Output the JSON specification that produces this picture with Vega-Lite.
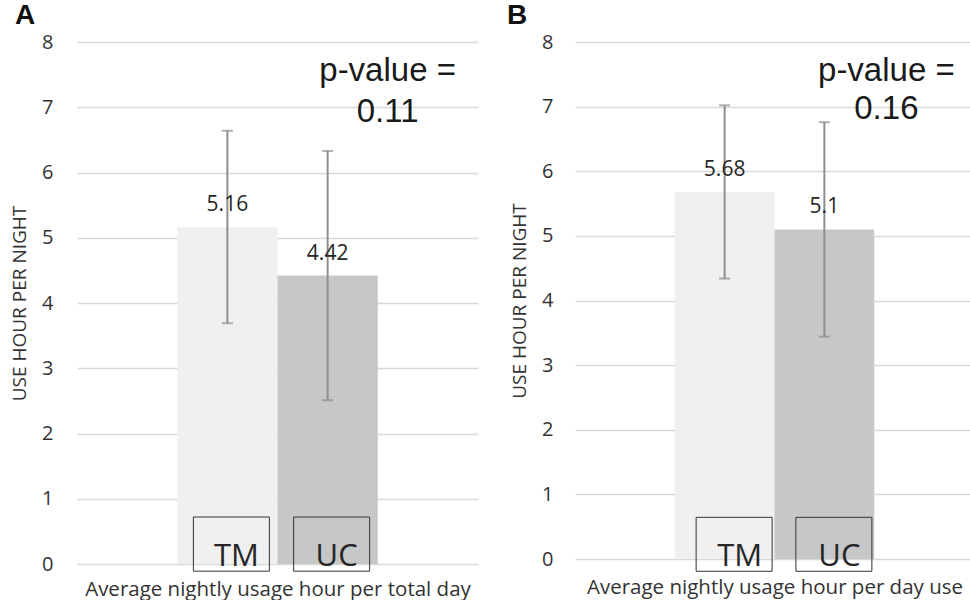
{
  "$schema": "https://vega.github.io/schema/vega-lite/v6.json",
  "background": "white",
  "padding": {"left": 10, "top": 2, "right": 0, "bottom": 0},
  "spacing": 29,
  "config": {
    "view": {"stroke": null},
    "font": "Open Sans",
    "axis": {"labelFont": "Open Sans", "titleFont": "Open Sans", "labelColor": "#333333", "titleColor": "#333333", "titleFontWeight": "normal"},
    "title": {"font": "Liberation Sans", "fontSize": 28, "fontWeight": "bold", "color": "#111111", "anchor": "start", "frame": "group"}
  },
  "hconcat": [
    {
      "width": 401,
      "height": 522,
      "title": {"text": "A", "dx": -62, "offset": 2},
      "data": {"values": [
        {"group": "TM", "mean": 5.16, "lo": 3.69, "hi": 6.64},
        {"group": "UC", "mean": 4.42, "lo": 2.51, "hi": 6.33}
      ]},
      "encoding": {
        "x": {"field": "group", "type": "nominal", "scale": {"domain": ["TM", "UC"], "paddingInner": 0, "paddingOuter": 1.056},
          "axis": {"labels": false, "ticks": false, "domain": false, "title": "Average nightly usage hour per total day", "titleFontSize": 20.5, "titlePadding": 15}}
      },
      "layer": [
        {
          "mark": {"type": "bar"},
          "encoding": {
            "y": {"field": "mean", "type": "quantitative", "scale": {"domain": [0, 8]},
              "axis": {"values": [0,1,2,3,4,5,6,7,8], "format": "d", "domain": false, "ticks": false, "grid": true, "gridColor": "#d9d9d9", "gridWidth": 1.5, "labelFontSize": 20, "labelPadding": 24, "title": "USE HOUR PER NIGHT", "titleFontSize": 19, "titlePadding": 12}},
            "color": {"field": "group", "type": "nominal", "scale": {"domain": ["TM", "UC"], "range": ["#f0f0f0", "#c6c7c9"]}, "legend": null}
          }
        },
        {
          "mark": {"type": "rule", "color": "#8e8e8e", "strokeWidth": 2},
          "encoding": {"y": {"field": "lo", "type": "quantitative"}, "y2": {"field": "hi"}}
        },
        {
          "mark": {"type": "tick", "color": "#8e8e8e", "thickness": 2, "size": 11},
          "encoding": {"y": {"field": "hi", "type": "quantitative"}}
        },
        {
          "mark": {"type": "tick", "color": "#8e8e8e", "thickness": 2, "size": 11},
          "encoding": {"y": {"field": "lo", "type": "quantitative"}}
        },
        {
          "mark": {"type": "text", "fontSize": 21, "color": "#262626", "baseline": "alphabetic", "dy": -16},
          "encoding": {"y": {"field": "mean", "type": "quantitative"}, "text": {"field": "mean", "type": "quantitative"}}
        },
        {
          "mark": {"type": "bar", "width": 76, "xOffset": 4, "fill": "transparent", "stroke": "#333333", "strokeWidth": 1},
          "encoding": {"y": {"datum": 0.72}, "y2": {"datum": -0.11}}
        },
        {
          "mark": {"type": "text", "fontSize": 31, "color": "#262626", "baseline": "alphabetic", "dx": 9, "dy": 2},
          "encoding": {"y": {"datum": 0}, "text": {"field": "group"}}
        },
        {
          "data": {"values": [{"p": "p-value =\n0.11"}]},
          "mark": {"type": "text", "font": "Liberation Sans", "fontSize": 33, "color": "#1a1a1a", "baseline": "alphabetic", "lineBreak": "\n", "lineHeight": 41, "dx": 60},
          "encoding": {"x": {"datum": "UC"}, "y": {"datum": 7.4}, "text": {"field": "p"}}
        }
      ]
    },
    {
      "width": 399,
      "height": 517,
      "title": {"text": "B", "dx": -68, "offset": 2},
      "data": {"values": [
        {"group": "TM", "mean": 5.68, "lo": 4.34, "hi": 7.02},
        {"group": "UC", "mean": 5.1, "lo": 3.44, "hi": 6.76}
      ]},
      "encoding": {
        "x": {"field": "group", "type": "nominal", "scale": {"domain": ["TM", "UC"], "paddingInner": 0, "paddingOuter": 1.056},
          "axis": {"labels": false, "ticks": false, "domain": false, "title": "Average nightly usage hour per day use", "titleFontSize": 20.5, "titlePadding": 18}}
      },
      "layer": [
        {
          "mark": {"type": "bar"},
          "encoding": {
            "y": {"field": "mean", "type": "quantitative", "scale": {"domain": [0, 8]},
              "axis": {"values": [0,1,2,3,4,5,6,7,8], "format": "d", "domain": false, "ticks": false, "grid": true, "gridColor": "#d9d9d9", "gridWidth": 1.5, "labelFontSize": 20, "labelPadding": 22, "title": "USE HOUR PER NIGHT", "titleFontSize": 19, "titlePadding": 12}},
            "color": {"field": "group", "type": "nominal", "scale": {"domain": ["TM", "UC"], "range": ["#f0f0f0", "#c6c7c9"]}, "legend": null}
          }
        },
        {
          "mark": {"type": "rule", "color": "#8e8e8e", "strokeWidth": 2},
          "encoding": {"y": {"field": "lo", "type": "quantitative"}, "y2": {"field": "hi"}}
        },
        {
          "mark": {"type": "tick", "color": "#8e8e8e", "thickness": 2, "size": 11},
          "encoding": {"y": {"field": "hi", "type": "quantitative"}}
        },
        {
          "mark": {"type": "tick", "color": "#8e8e8e", "thickness": 2, "size": 11},
          "encoding": {"y": {"field": "lo", "type": "quantitative"}}
        },
        {
          "mark": {"type": "text", "fontSize": 21, "color": "#262626", "baseline": "alphabetic", "dy": -16},
          "encoding": {"y": {"field": "mean", "type": "quantitative"}, "text": {"field": "mean", "type": "quantitative"}}
        },
        {
          "mark": {"type": "bar", "width": 76, "xOffset": 9.5, "fill": "transparent", "stroke": "#333333", "strokeWidth": 1},
          "encoding": {"y": {"datum": 0.645}, "y2": {"datum": -0.19}}
        },
        {
          "mark": {"type": "text", "fontSize": 31, "color": "#262626", "baseline": "alphabetic", "dx": 15, "dy": 7},
          "encoding": {"y": {"datum": 0}, "text": {"field": "group"}}
        },
        {
          "data": {"values": [{"p": "p-value =\n0.16"}]},
          "mark": {"type": "text", "font": "Liberation Sans", "fontSize": 33, "color": "#1a1a1a", "baseline": "alphabetic", "lineBreak": "\n", "lineHeight": 38, "dx": 62},
          "encoding": {"x": {"datum": "UC"}, "y": {"datum": 7.4}, "text": {"field": "p"}}
        }
      ]
    }
  ]
}
